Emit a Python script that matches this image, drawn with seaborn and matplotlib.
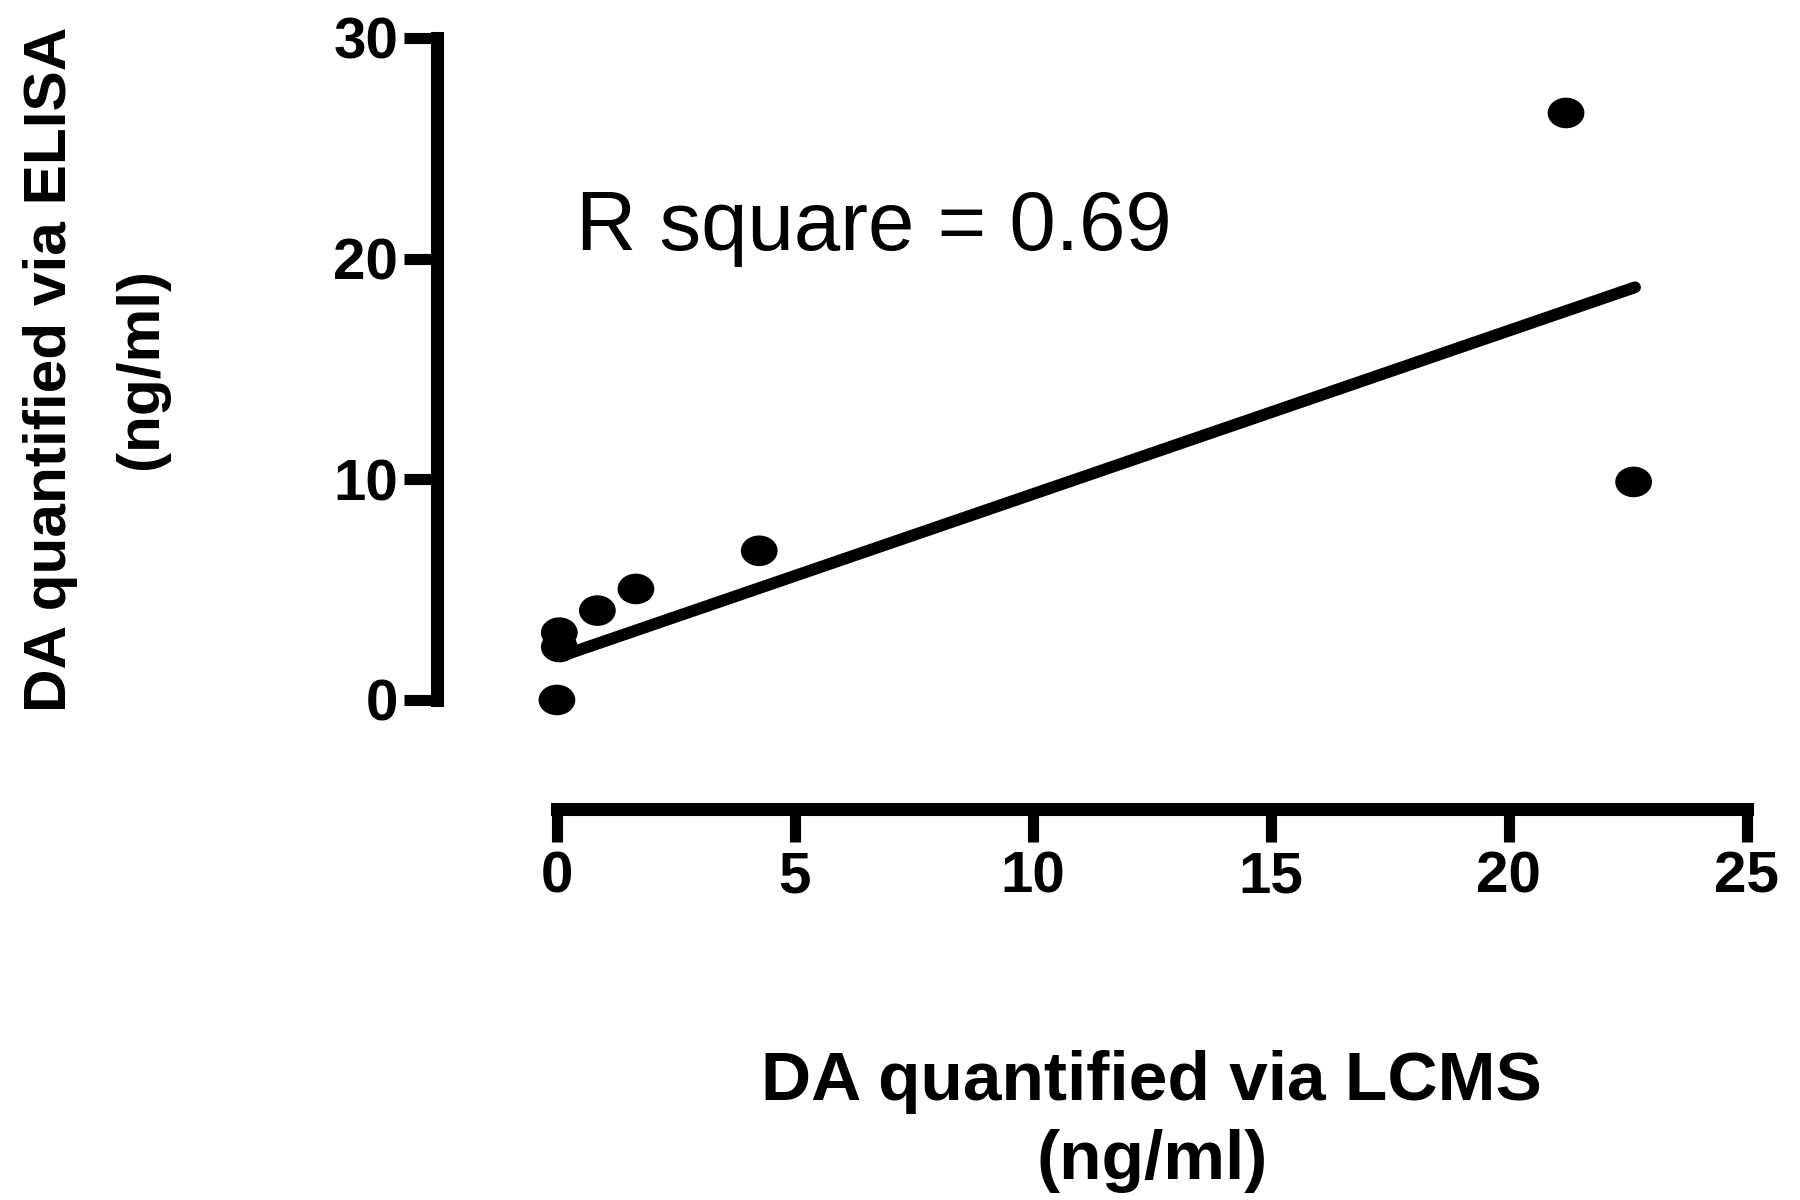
import matplotlib
matplotlib.use("Agg")
import numpy as np
import pandas as pd
import seaborn as sns
import matplotlib.pyplot as plt
from matplotlib.path import Path
from matplotlib.transforms import Affine2D
from matplotlib.markers import MarkerStyle

# ---- data ----
lcms = [0.0, 0.05, 0.05, 0.85, 1.66, 4.25, 21.2, 22.62]
elisa = [0.0, 3.05, 2.4, 4.05, 5.03, 6.76, 26.6, 9.88]
fit_x = [0.08, 22.65]
fit_y = [1.98, 18.7]
x_ticks = [0, 5, 10, 15, 20, 25]
y_ticks = [0, 10, 20, 30]
xlabel = "DA quantified via LCMS\n(ng/ml)"
ylabel = "DA quantified via ELISA\n(ng/ml)"
annotation = "R square = 0.69"

sns.set_theme(style="white")
plt.rcParams['font.family'] = ['Liberation Sans', 'DejaVu Sans']
plt.rcParams['text.color'] = 'black'
plt.rcParams['axes.labelcolor'] = 'black'
plt.rcParams['xtick.color'] = 'black'
plt.rcParams['ytick.color'] = 'black'

fig = plt.figure(figsize=(18, 12), dpi=100)
fig.patch.set_facecolor("white")
ax = fig.add_axes([0.3094, 0.4167, 0.6611, 0.5517])
ax.set_facecolor("white")

df = pd.DataFrame({"lcms": lcms, "elisa": elisa})
ell = Path.unit_circle().transformed(Affine2D().scale(1.2, 1.0))
sns.scatterplot(data=df, x="lcms", y="elisa", marker=MarkerStyle(ell), s=700,
                color="black", edgecolor="none", ax=ax, clip_on=False, zorder=3)
sns.lineplot(x=fit_x, y=fit_y, color="black", lw=8.5, ax=ax,
             solid_capstyle="round", zorder=2)

ax.set_xlim(0, 25)
ax.set_ylim(0, 30)

sns.despine(ax=ax)
ax.spines['left'].set_position(('outward', 86.4))
ax.spines['bottom'].set_position(('outward', 78.5))
ax.spines['left'].set_bounds(0, 30)
ax.spines['bottom'].set_bounds(0, 25)
for s in ('left', 'bottom'):
    ax.spines[s].set_linewidth(9.4)
    ax.spines[s].set_color('black')
    ax.spines[s].set_capstyle('projecting')

ax.tick_params(axis='both', direction='out', length=24, width=8, color='black',
               bottom=True, left=True, labelcolor='black')
ax.tick_params(axis='x', pad=6)
ax.tick_params(axis='y', pad=4)
ax.set_xticks(x_ticks, labels=[str(t) for t in x_ticks], fontsize=42, fontweight='bold')
ax.set_yticks(y_ticks, labels=[str(t) for t in y_ticks], fontsize=42, fontweight='bold')

ax.set_xlabel(xlabel, fontsize=50, fontweight='bold', linespacing=1.3, color='black')
ax.xaxis.set_label_coords(0.5, -0.529)
ax.set_ylabel(ylabel, fontsize=43.5, fontweight='bold', linespacing=1.84, color='black')
ax.yaxis.set_label_coords(-0.326, 0.5)

ax.text(0.4, 21.4, annotation, fontsize=60, ha='left', va='center', color='black')

fig.savefig("out.png", dpi=100, facecolor="white")
